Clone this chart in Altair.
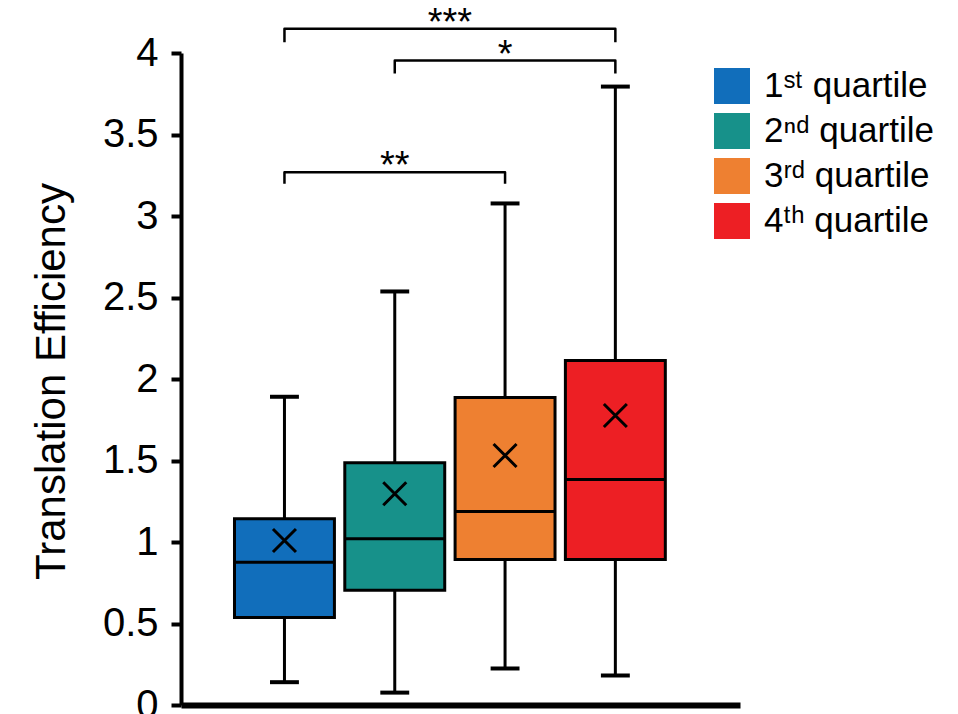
import altair as alt
import pandas as pd

# ---- data ----
groups = ["1ˢᵗ quartile", "2ⁿᵈ quartile", "3ʳᵈ quartile", "4ᵗʰ quartile"]
colors = ["#116EBB", "#17918A", "#EE8031", "#ED1F24"]
whisker_low = [0.140, 0.076, 0.224, 0.181]
box_q1 = [0.537, 0.704, 0.893, 0.893]
box_median = [0.876, 1.020, 1.187, 1.383]
box_q3 = [1.142, 1.486, 1.887, 2.113]
whisker_high = [1.891, 2.537, 3.077, 3.794]
box_mean = [1.009, 1.296, 1.531, 1.776]

y_ticks = [0, 0.5, 1, 1.5, 2, 2.5, 3, 3.5, 4]

bracket_from = [1, 2, 1]
bracket_to = [4, 4, 3]
bracket_top = [4.149, 3.954, 3.269]
bracket_foot = [4.066, 3.874, 3.198]
bracket_label = ["***", "*", "**"]
bracket_label_y = [4.110, 3.916, 3.232]

# ---- styles ----
FONT = "Liberation Sans"
BOX_HW = 0.453
CAP_HW = 0.131

positions = list(range(1, len(groups) + 1))
box_df = pd.DataFrame({
    "group": groups, "pos": positions, "low": whisker_low, "q1": box_q1,
    "median": box_median, "q3": box_q3, "high": whisker_high, "mean": box_mean,
})

rows = []
for i in range(len(bracket_from)):
    pts = [(bracket_from[i], bracket_foot[i]), (bracket_from[i], bracket_top[i]),
           (bracket_to[i], bracket_top[i]), (bracket_to[i], bracket_foot[i])]
    for k, (bx, by) in enumerate(pts):
        rows.append({"bracket": i, "k": k, "bx": bx, "by": by})
bracket_df = pd.DataFrame(rows)

label_df = pd.DataFrame({"a": bracket_from, "b": bracket_to,
                         "label": bracket_label, "ly": bracket_label_y})

x_scale = alt.Scale(domain=[0.062, 5.13], nice=False, zero=False)
y_scale = alt.Scale(domain=[0, 4], nice=False, zero=True)

x_axis = alt.Axis(labels=False, ticks=False, grid=False, domainWidth=6,
                  domainColor="black", title=None)
y_axis = alt.Axis(values=y_ticks, format="~g", grid=False, domainWidth=4,
                  domainColor="black", tickColor="black", tickWidth=4, tickSize=10,
                  labelFont=FONT, labelFontSize=40, labelColor="black", labelPadding=13,
                  title="Translation Efficiency", titleFont=FONT, titleFontSize=42,
                  titleFontWeight="normal", titleColor="black", titleAngle=-90,
                  titleAlign="center", titleBaseline="alphabetic",
                  titleX=-117, titleY=328)


def X(field):
    return alt.X(field, type="quantitative", scale=x_scale, axis=x_axis, title=None)


def Y(field):
    return alt.Y(field, type="quantitative", scale=y_scale, axis=y_axis,
                 title="Translation Efficiency")


base = alt.Chart(box_df).transform_calculate(
    x_lo=alt.datum.pos - BOX_HW, x_hi=alt.datum.pos + BOX_HW,
    c_lo=alt.datum.pos - CAP_HW, c_hi=alt.datum.pos + CAP_HW,
)

whisker = base.mark_rule(color="black", strokeWidth=3).encode(
    x=X("pos"), y=Y("low"), y2="high:Q")

cap_low = base.mark_rule(color="black", strokeWidth=4).encode(
    x=X("c_lo"), x2="c_hi:Q", y=Y("low"))
cap_high = base.mark_rule(color="black", strokeWidth=4).encode(
    x=X("c_lo"), x2="c_hi:Q", y=Y("high"))

box = base.mark_rect(stroke="black", strokeWidth=3).encode(
    x=X("x_lo"), x2="x_hi:Q", y=Y("q1"), y2="q3:Q",
    color=alt.Color("group:N", scale=alt.Scale(domain=groups, range=colors),
                    legend=alt.Legend(orient="none", legendX=533, legendY=15,
                                      title=None, symbolType="square", symbolSize=1296,
                                      symbolStrokeWidth=0, symbolOpacity=1,
                                      labelFont=FONT, labelFontSize=35,
                                      labelColor="black", labelOffset=14,
                                      labelLimit=400, rowPadding=9, padding=0)),
)

med = base.mark_rule(color="black", strokeWidth=3).encode(
    x=X("x_lo"), x2="x_hi:Q", y=Y("median"))

mean_pt = base.mark_point(shape="M-1,-1L1,1M-1,1L1,-1", filled=False, color="black",
                          strokeWidth=3, size=529, opacity=1).encode(
    x=X("pos"), y=Y("mean"))

brackets = alt.Chart(bracket_df).mark_line(
    color="black", strokeWidth=2.5, strokeJoin="round").encode(
    x=X("bx"), y=Y("by"), detail="bracket:N", order="k:Q")

stars = alt.Chart(label_df).transform_calculate(
    mx=(alt.datum.a + alt.datum.b) / 2
).mark_text(font=FONT, fontSize=38, baseline="alphabetic", align="center",
            color="black").encode(
    x=X("mx"), y=Y("ly"), text="label:N")

chart = alt.layer(whisker, cap_low, cap_high, box, med, mean_pt, brackets, stars).properties(
    width=559, height=652,
    padding={"left": 181, "top": 53, "right": 218, "bottom": 9},
    autosize=alt.AutoSizeParams(type="none"),
    background="white",
).configure_view(strokeWidth=0, stroke=None)

chart.save("out.html", embed_options={"renderer": "svg", "actions": False})
